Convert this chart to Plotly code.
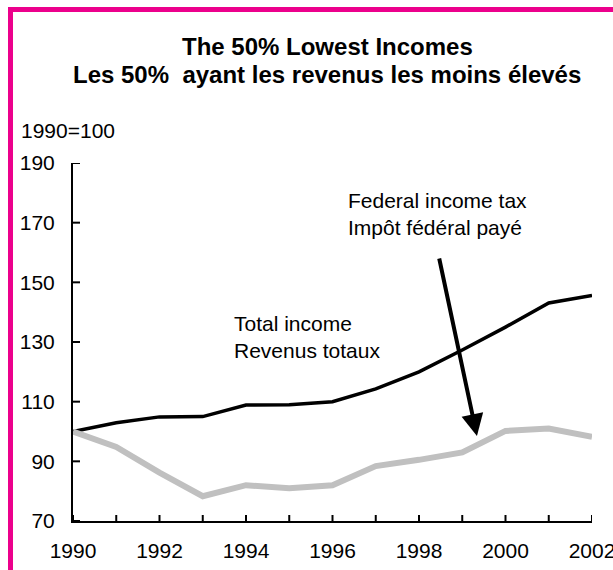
import plotly.graph_objects as go

years = [1990, 1991, 1992, 1993, 1994, 1995, 1996, 1997, 1998, 1999, 2000, 2001, 2002]
total_income = [100, 102.9, 104.9, 105, 108.9, 109, 110, 114.3, 120, 127.3, 135, 143.1, 145.6]
federal_tax = [100, 94.8, 86.2, 78.3, 82, 81, 82, 88.4, 90.5, 93, 100.2, 101, 98.2]
y_ticks = [70, 90, 110, 130, 150, 170, 190]
x_labels = [str(y) if y % 2 == 0 else "" for y in years]

title1 = "The 50% Lowest Incomes"
title2 = "Les 50%  ayant les revenus les moins élevés"
y_label = "1990=100"
label_total = "Total income<br>Revenus totaux"
label_tax = "Federal income tax<br>Impôt fédéral payé"

FONT = "Liberation Sans, Arial, sans-serif"
W, H = 613, 570
L, R, T, B = 73, 21, 163, 49
pw = W - L - R
ph = H - T - B
XR = [1990, 2002]
YR = [70, 190]


def px_x(p):
    return (p - L) / pw


def px_y(p):
    return (H - B - p) / ph


# tick-mark lengths converted from pixels to data units
xtick_len = 6 * (YR[1] - YR[0]) / ph
ytick_len = 7 * (XR[1] - XR[0]) / pw

tick_x, tick_y = [], []
for yr in years:
    tick_x += [yr, yr, None]
    tick_y += [YR[0], YR[0] + xtick_len, None]
for v in y_ticks:
    tick_x += [XR[0], XR[0] + ytick_len, None]
    tick_y += [v, v, None]

fig = go.Figure()
fig.add_trace(go.Scatter(x=tick_x, y=tick_y, mode="lines", line=dict(color="black", width=2),
                         hoverinfo="skip", cliponaxis=False, name="ticks"))
fig.add_trace(go.Scatter(x=years, y=total_income, mode="lines",
                         line=dict(color="black", width=3.5), name="Total income"))
fig.add_trace(go.Scatter(x=years, y=federal_tax, mode="lines",
                         line=dict(color="#C0C0C0", width=6), name="Federal income tax"))

fig.update_layout(
    width=W, height=H,
    margin=dict(l=L, r=R, t=T, b=B),
    paper_bgcolor="white", plot_bgcolor="white",
    showlegend=False,
    font=dict(family=FONT, size=21, color="black"),
    xaxis=dict(range=XR, tickvals=years, ticktext=x_labels,
               showgrid=False, zeroline=False,
               showline=True, linecolor="black", linewidth=2, ticks="",
               tickfont=dict(size=21), automargin=False, ticklabeloverflow="allow",
               ticklabelstandoff=10),
    yaxis=dict(range=YR, tickvals=y_ticks, showgrid=False,
               zeroline=False, showline=True, linecolor="black", linewidth=2, ticks="",
               tickfont=dict(size=21), automargin=False, ticklabelstandoff=12),
)

annotations = [
    dict(text="<b>%s</b>" % title1, xref="paper", yref="paper", x=px_x(327), y=px_y(46),
         xanchor="center", yanchor="middle", showarrow=False, font=dict(size=24)),
    dict(text="<b>%s</b>" % title2, xref="paper", yref="paper", x=px_x(327), y=px_y(74),
         xanchor="center", yanchor="middle", showarrow=False, font=dict(size=24)),
    dict(text=y_label, xref="paper", yref="paper", x=px_x(19), y=px_y(130),
         xanchor="left", yanchor="middle", showarrow=False, font=dict(size=21)),
    dict(text=label_tax, xref="paper", yref="paper", x=px_x(346), y=px_y(214.5),
         xanchor="left", yanchor="middle", align="left", showarrow=False, font=dict(size=21)),
    dict(text=label_total, xref="paper", yref="paper", x=px_x(232), y=px_y(336.5),
         xanchor="left", yanchor="middle", align="left", showarrow=False, font=dict(size=21)),
    dict(text="", x=1999.34, y=98.5, xref="x", yref="y", ax=1998.46, ay=158.5,
         axref="x", ayref="y", showarrow=True, arrowhead=2, arrowsize=1.1,
         arrowwidth=4, arrowcolor="black", standoff=0, startstandoff=0),
]
fig.update_layout(annotations=annotations)

fig.add_shape(type="rect", xref="paper", yref="paper",
              x0=px_x(10.5), x1=px_x(720), y0=px_y(720), y1=px_y(9.5),
              line=dict(color="#EC008C", width=5), fillcolor="rgba(0,0,0,0)", layer="above")

fig.write_html("out.html")
